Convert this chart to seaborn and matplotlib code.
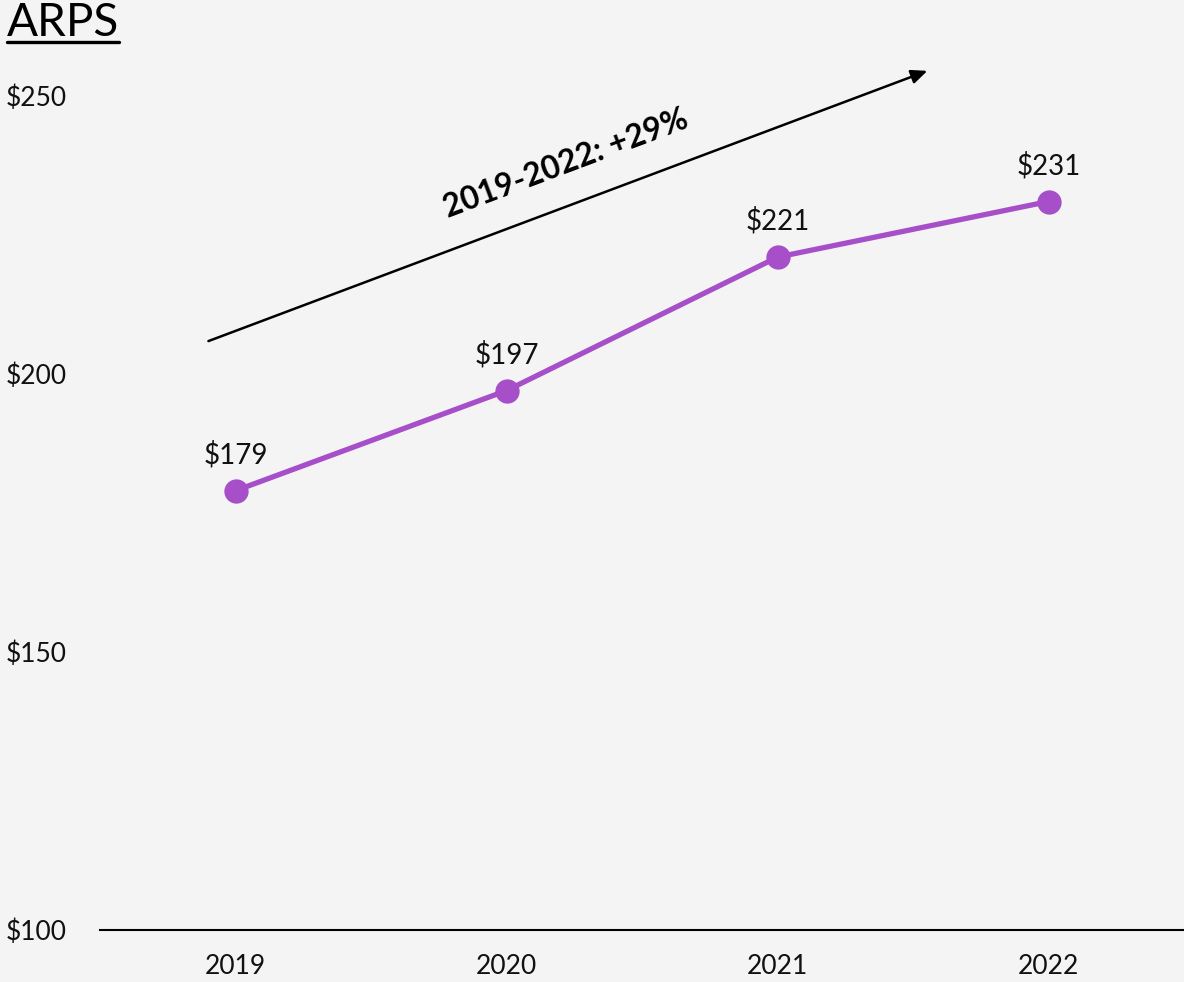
import pandas as pd
import matplotlib.pyplot as plt
import seaborn as sns

# chart data
years = ["2019", "2020", "2021", "2022"]
arps = [179, 197, 221, 231]
value_labels = ["$179", "$197", "$221", "$231"]
y_ticks = [100, 150, 200, 250]
y_tick_labels = ["$100", "$150", "$200", "$250"]
title = "ARPS"
growth_text = "2019-2022: +29%"

df = pd.DataFrame({"year": years, "arps": arps})
df["pos"] = range(len(years))

bg = "#f4f4f4"
purple = "#a64fc9"

sns.set_theme(style="white")
plt.rcParams["font.family"] = ["Lato", "DejaVu Sans"]

fig = plt.figure(figsize=(11.84, 9.82), dpi=100, facecolor=bg)
ax = fig.add_axes([0.0845, 0.053, 0.9155, 0.906])
ax.set_facecolor(bg)

sns.lineplot(data=df, x="pos", y="arps", ax=ax, color=purple, linewidth=3.8,
             marker="o", markersize=17.5, markeredgewidth=0, markerfacecolor=purple)

# value labels above points
for i, (v, lab) in enumerate(zip(arps, value_labels)):
    ax.annotate(lab, (i, v), xytext=(0, 16), textcoords="offset points",
                ha="center", va="bottom", fontsize=20, color="#111111")

# growth arrow
ax.annotate("", xy=(2.553, 254.5), xytext=(-0.10, 205.9),
            arrowprops=dict(arrowstyle="-|>,head_length=0.8,head_width=0.35",
                        color="black", lw=1.8, shrinkA=0, shrinkB=0))
ax.text(1.22, 237.8, growth_text, rotation=20.6, rotation_mode="anchor",
        ha="center", va="center", fontsize=23, fontweight="bold", color="black")

ax.set_xlim(-0.5, 3.5)
ax.set_ylim(100, 260)
ax.set_xticks(df["pos"])
ax.set_xticklabels(years, fontsize=19, color="#111111")
ax.set_yticks(y_ticks)
ax.set_yticklabels(y_tick_labels, fontsize=19, color="#111111")
ax.tick_params(axis="y", length=0, pad=24)
ax.tick_params(axis="x", length=0, pad=17)
ax.set_xlabel("")
ax.set_ylabel("")

for s in ["top", "right", "left"]:
    ax.spines[s].set_visible(False)
ax.spines["bottom"].set_color("black")
ax.spines["bottom"].set_linewidth(1.5)

# underlined title
t = fig.text(0.006, 0.977, title, fontsize=33, color="black", ha="left", va="center")
fig.canvas.draw()
bb = t.get_window_extent()
fig.add_artist(plt.Line2D([bb.x0 / 1184, bb.x1 / 1184], [940 / 982, 940 / 982],
                          color="black", linewidth=2.4, transform=fig.transFigure))

fig.savefig("out.png", dpi=100, facecolor=bg)
